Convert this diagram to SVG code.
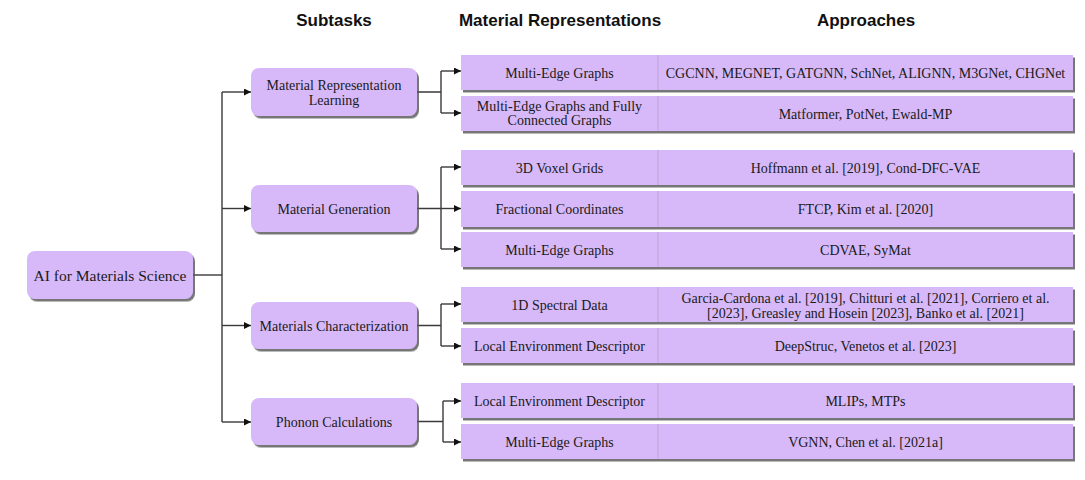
<svg xmlns="http://www.w3.org/2000/svg" width="1085" height="480" viewBox="0 0 1085 480">
  <defs>
    <filter id="sh" x="-10%" y="-20%" width="120%" height="150%">
      <feDropShadow dx="2" dy="2.5" stdDeviation="0.7" flood-color="#555" flood-opacity="0.8"/>
    </filter>
    <marker id="ah" viewBox="0 0 10 10" refX="10" refY="5" markerWidth="10" markerHeight="7" markerUnits="userSpaceOnUse" orient="auto">
      <path d="M0,0 L10,5 L0,10 z" fill="#111"/>
    </marker>
  </defs>
  <style>
    .hdr { font-family: "Liberation Sans", Arial, sans-serif; font-weight: bold; font-size: 17px; fill: #111; text-anchor: middle; }
    .node { fill: #d7b9f9; filter: url(#sh); }
    .t { font-family: "Liberation Serif", "Times New Roman", serif; font-size: 14px; fill: #1a1a1a; text-anchor: middle; }
    .big { font-size: 15.5px; }
    .div { stroke: #bca3d8; stroke-width: 1; }
    .c { fill: none; stroke: #3a3a3a; stroke-width: 1.4; }
    .a { fill: none; stroke: #3a3a3a; stroke-width: 1.4; marker-end: url(#ah); }
  </style>
  <rect width="1085" height="480" fill="#fff"/>

  <g id="headers">
    <text class="hdr" x="334" y="26">Subtasks</text>
    <text class="hdr" x="560" y="26">Material Representations</text>
    <text class="hdr" x="866" y="26">Approaches</text>
  </g>

  <g id="connectors">
    <path class="c" d="M193,275 H222"/>
    <path class="c" d="M222,92 V422"/>
    <path class="a" d="M222,92 H251"/>
    <path class="a" d="M222,208.5 H251"/>
    <path class="a" d="M222,325.5 H251"/>
    <path class="a" d="M222,422 H251"/>
    <path class="c" d="M417,92 H441 M441,71 V113"/>
    <path class="a" d="M441,71 H461"/>
    <path class="a" d="M441,113 H461"/>
    <path class="c" d="M417,208.5 H441 M441,167 V249"/>
    <path class="a" d="M441,167 H461"/>
    <path class="a" d="M441,208.5 H461"/>
    <path class="a" d="M441,249 H461"/>
    <path class="c" d="M417,325.5 H441 M441,304 V346"/>
    <path class="a" d="M441,304 H461"/>
    <path class="a" d="M441,346 H461"/>
    <path class="c" d="M417,421.5 H443 M443,401 V442"/>
    <path class="a" d="M443,401 H461"/>
    <path class="a" d="M443,442 H461"/>
  </g>

  <g id="root">
    <rect class="node" x="27" y="251" width="166" height="48" rx="8"/>
    <text class="t big" x="110" y="280.5">AI for Materials Science</text>
  </g>

  <g id="mrl">
    <rect class="node" x="251" y="68" width="166" height="48" rx="8"/>
    <text class="t" x="334" y="89.5">Material Representation</text>
    <text class="t" x="334" y="104.5">Learning</text>
  </g>
  <g id="mg">
    <rect class="node" x="251" y="185" width="166" height="47" rx="8"/>
    <text class="t" x="334" y="213.5">Material Generation</text>
  </g>
  <g id="mc">
    <rect class="node" x="251" y="302" width="166" height="47" rx="8"/>
    <text class="t" x="334" y="330.5">Materials Characterization</text>
  </g>
  <g id="pc">
    <rect class="node" x="251" y="398" width="166" height="47" rx="8"/>
    <text class="t" x="334" y="426.5">Phonon Calculations</text>
  </g>

  <g id="row1">
    <rect class="node" x="461" y="55" width="612" height="35"/>
    <line class="div" x1="658" y1="55" x2="658" y2="90"/>
    <text class="t" x="559.5" y="77.5">Multi-Edge Graphs</text>
    <text class="t" x="865.5" y="77.5">CGCNN, MEGNET, GATGNN, SchNet, ALIGNN, M3GNet, CHGNet</text>
  </g>
  <g id="row2">
    <rect class="node" x="461" y="96" width="612" height="35"/>
    <line class="div" x1="658" y1="96" x2="658" y2="131"/>
    <text class="t" x="559.5" y="110.5">Multi-Edge Graphs and Fully</text>
    <text class="t" x="559.5" y="125">Connected Graphs</text>
    <text class="t" x="865.5" y="118.5">Matformer, PotNet, Ewald-MP</text>
  </g>
  <g id="row3">
    <rect class="node" x="461" y="150" width="612" height="35"/>
    <line class="div" x1="658" y1="150" x2="658" y2="185"/>
    <text class="t" x="559.5" y="172.5">3D Voxel Grids</text>
    <text class="t" x="865.5" y="172.5">Hoffmann et al. [2019], Cond-DFC-VAE</text>
  </g>
  <g id="row4">
    <rect class="node" x="461" y="191" width="612" height="36"/>
    <line class="div" x1="658" y1="191" x2="658" y2="227"/>
    <text class="t" x="559.5" y="213.5">Fractional Coordinates</text>
    <text class="t" x="865.5" y="213.5">FTCP, Kim et al. [2020]</text>
  </g>
  <g id="row5">
    <rect class="node" x="461" y="232" width="612" height="35"/>
    <line class="div" x1="658" y1="232" x2="658" y2="267"/>
    <text class="t" x="559.5" y="254.5">Multi-Edge Graphs</text>
    <text class="t" x="865.5" y="254.5">CDVAE, SyMat</text>
  </g>
  <g id="row6">
    <rect class="node" x="461" y="287" width="612" height="35"/>
    <line class="div" x1="658" y1="287" x2="658" y2="322"/>
    <text class="t" x="559.5" y="309.5">1D Spectral Data</text>
    <text class="t" x="865.5" y="303">Garcia-Cardona et al. [2019], Chitturi et al. [2021], Corriero et al.</text>
    <text class="t" x="865.5" y="318">[2023], Greasley and Hosein [2023], Banko et al. [2021]</text>
  </g>
  <g id="row7">
    <rect class="node" x="461" y="328" width="612" height="35"/>
    <line class="div" x1="658" y1="328" x2="658" y2="363"/>
    <text class="t" x="559.5" y="350.5">Local Environment Descriptor</text>
    <text class="t" x="865.5" y="350.5">DeepStruc, Venetos et al. [2023]</text>
  </g>
  <g id="row8">
    <rect class="node" x="461" y="383" width="612" height="35"/>
    <line class="div" x1="658" y1="383" x2="658" y2="418"/>
    <text class="t" x="559.5" y="405.5">Local Environment Descriptor</text>
    <text class="t" x="865.5" y="405.5">MLIPs, MTPs</text>
  </g>
  <g id="row9">
    <rect class="node" x="461" y="424" width="612" height="35"/>
    <line class="div" x1="658" y1="424" x2="658" y2="459"/>
    <text class="t" x="559.5" y="446.5">Multi-Edge Graphs</text>
    <text class="t" x="865.5" y="446.5">VGNN, Chen et al. [2021a]</text>
  </g>
</svg>
